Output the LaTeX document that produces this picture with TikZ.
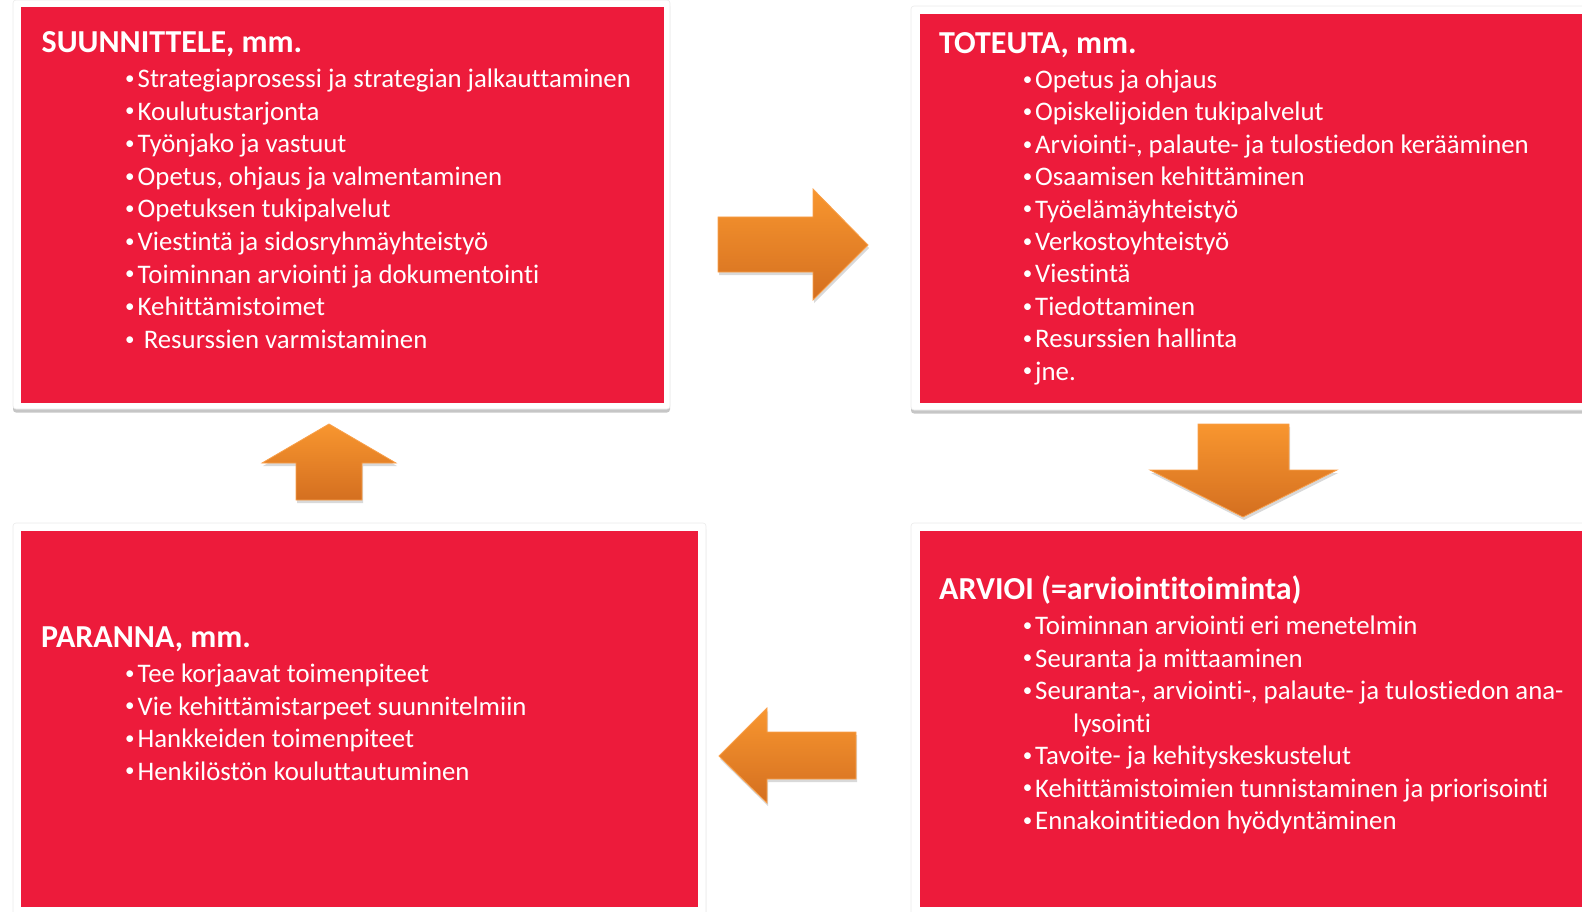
\documentclass[tikz,border=0pt]{standalone}
\usepackage{fontspec}
\setmainfont{Carlito}[Ligatures={NoCommon,NoRequired,NoContextual}]
\usetikzlibrary{shadows}

\definecolor{boxred}{HTML}{ED1B3B}
\definecolor{arrowtop}{HTML}{F8962F}
\definecolor{arrowbot}{HTML}{D46F20}
\definecolor{arrowedge}{HTML}{F9A04B}
\newcommand{\itm}{\llap{\raisebox{3.2pt}{\fontsize{19}{19}\selectfont •}\hspace{3pt}}}

\tikzset{
  boxframe/.style={fill=white, draw=black!8, line width=0.6pt, rounded corners=3pt,
    drop shadow={shadow xshift=0pt, shadow yshift=-3.5pt, opacity=0.45}},
  redbox/.style={fill=boxred, inner sep=0pt, anchor=north west},
  boxtitle/.style={font=\fontsize{32}{38}\selectfont\bfseries, text=white, anchor=base west, inner sep=0pt},
  listitem/.style={font=\fontsize{26.8}{32}\selectfont, text=white, anchor=base west, inner sep=0pt},
  blockarrow/.style={top color=arrowtop, bottom color=arrowbot, draw=arrowedge, line width=0.8pt,
    drop shadow={shadow xshift=1pt, shadow yshift=-3pt, opacity=0.3}}
}

\begin{document}
\begin{tikzpicture}[x=1pt, y=-1pt]
  \useasboundingbox (0,0) rectangle (1582,912);
  \clip (0,0) rectangle (1582,912);

  % frames
  \path[boxframe] (13,0) rectangle (670,409);
  \path[boxframe] (911,6) rectangle (1595,410);
  \path[boxframe] (13,523) rectangle (706,920);
  \path[boxframe] (911,523) rectangle (1595,920);

  \node[redbox, minimum width=643pt, minimum height=396pt] (plan) at (21,7) {};
  \node[redbox, minimum width=670pt, minimum height=389pt] (do) at (920,14) {};
  \node[redbox, minimum width=677pt, minimum height=376pt] (act) at (21,531) {};
  \node[redbox, minimum width=670pt, minimum height=376pt] (check) at (920,531) {};

  % SUUNNITTELE
  \node[boxtitle] (plan-title) at (41.5,53) {SUUNNITTELE, mm.};
  \foreach \txt [count=\i from 0] in {Strategiaprosessi ja strategian jalkauttaminen, Koulutustarjonta,
      Työnjako ja vastuut, {Opetus, ohjaus ja valmentaminen}, Opetuksen tukipalvelut,
      Viestintä ja sidosryhmäyhteistyö, Toiminnan arviointi ja dokumentointi, Kehittämistoimet,
      \ Resurssien varmistaminen}
    \node[listitem] (plan-\i) at (137.5, 87.5+32.6*\i) {\itm\txt};

  % TOTEUTA
  \node[boxtitle] (do-title) at (939,53.3) {TOTEUTA, mm.};
  \foreach \txt [count=\i from 0] in {Opetus ja ohjaus, Opiskelijoiden tukipalvelut,
      {Arviointi-, palaute- ja tulostiedon kerääminen}, Osaamisen kehittäminen,
      Työelämäyhteistyö, Verkostoyhteistyö, Viestintä, Tiedottaminen, Resurssien hallinta, jne.}
    \node[listitem] (do-\i) at (1035, 88.5+32.4*\i) {\itm\txt};

  % ARVIOI
  \node[boxtitle] (check-title) at (939,599) {ARVIOI (=arviointitoiminta)};
  \foreach \txt [count=\i from 0] in {\itm Toiminnan arviointi eri menetelmin, \itm Seuranta ja mittaaminen,
      {\itm Seuranta-, arviointi-, palaute- ja tulostiedon ana-}, \hspace{38pt}lysointi,
      \itm Tavoite- ja kehityskeskustelut, \itm Kehittämistoimien tunnistaminen ja priorisointi,
      \itm Ennakointitiedon hyödyntäminen}
    \node[listitem] (check-\i) at (1035, 634.5+32.5*\i) {\txt};

  % PARANNA
  \node[boxtitle] (act-title) at (41,647) {PARANNA, mm.};
  \foreach \txt [count=\i from 0] in {Tee korjaavat toimenpiteet, Vie kehittämistarpeet suunnitelmiin,
      Hankkeiden toimenpiteet, Henkilöstön kouluttautuminen}
    \node[listitem] (act-\i) at (137.5, 682.5+32.5*\i) {\itm\txt};

  % arrows
  \path[blockarrow] (718,217) -- (813,217) -- (813,189) -- (868,245) -- (813,300) -- (813,272) -- (718,272) -- cycle;
  \path[blockarrow] (1198,424) -- (1289,424) -- (1289,470) -- (1337,470) -- (1243,517) -- (1150,470) -- (1198,470) -- cycle;
  \path[blockarrow] (856,732) -- (767,732) -- (767,708) -- (719,756) -- (767,803) -- (767,779) -- (856,779) -- cycle;
  \path[blockarrow] (296,500) -- (296,463) -- (262,463) -- (329,424) -- (396,463) -- (362,463) -- (362,500) -- cycle;
\end{tikzpicture}
\end{document}
